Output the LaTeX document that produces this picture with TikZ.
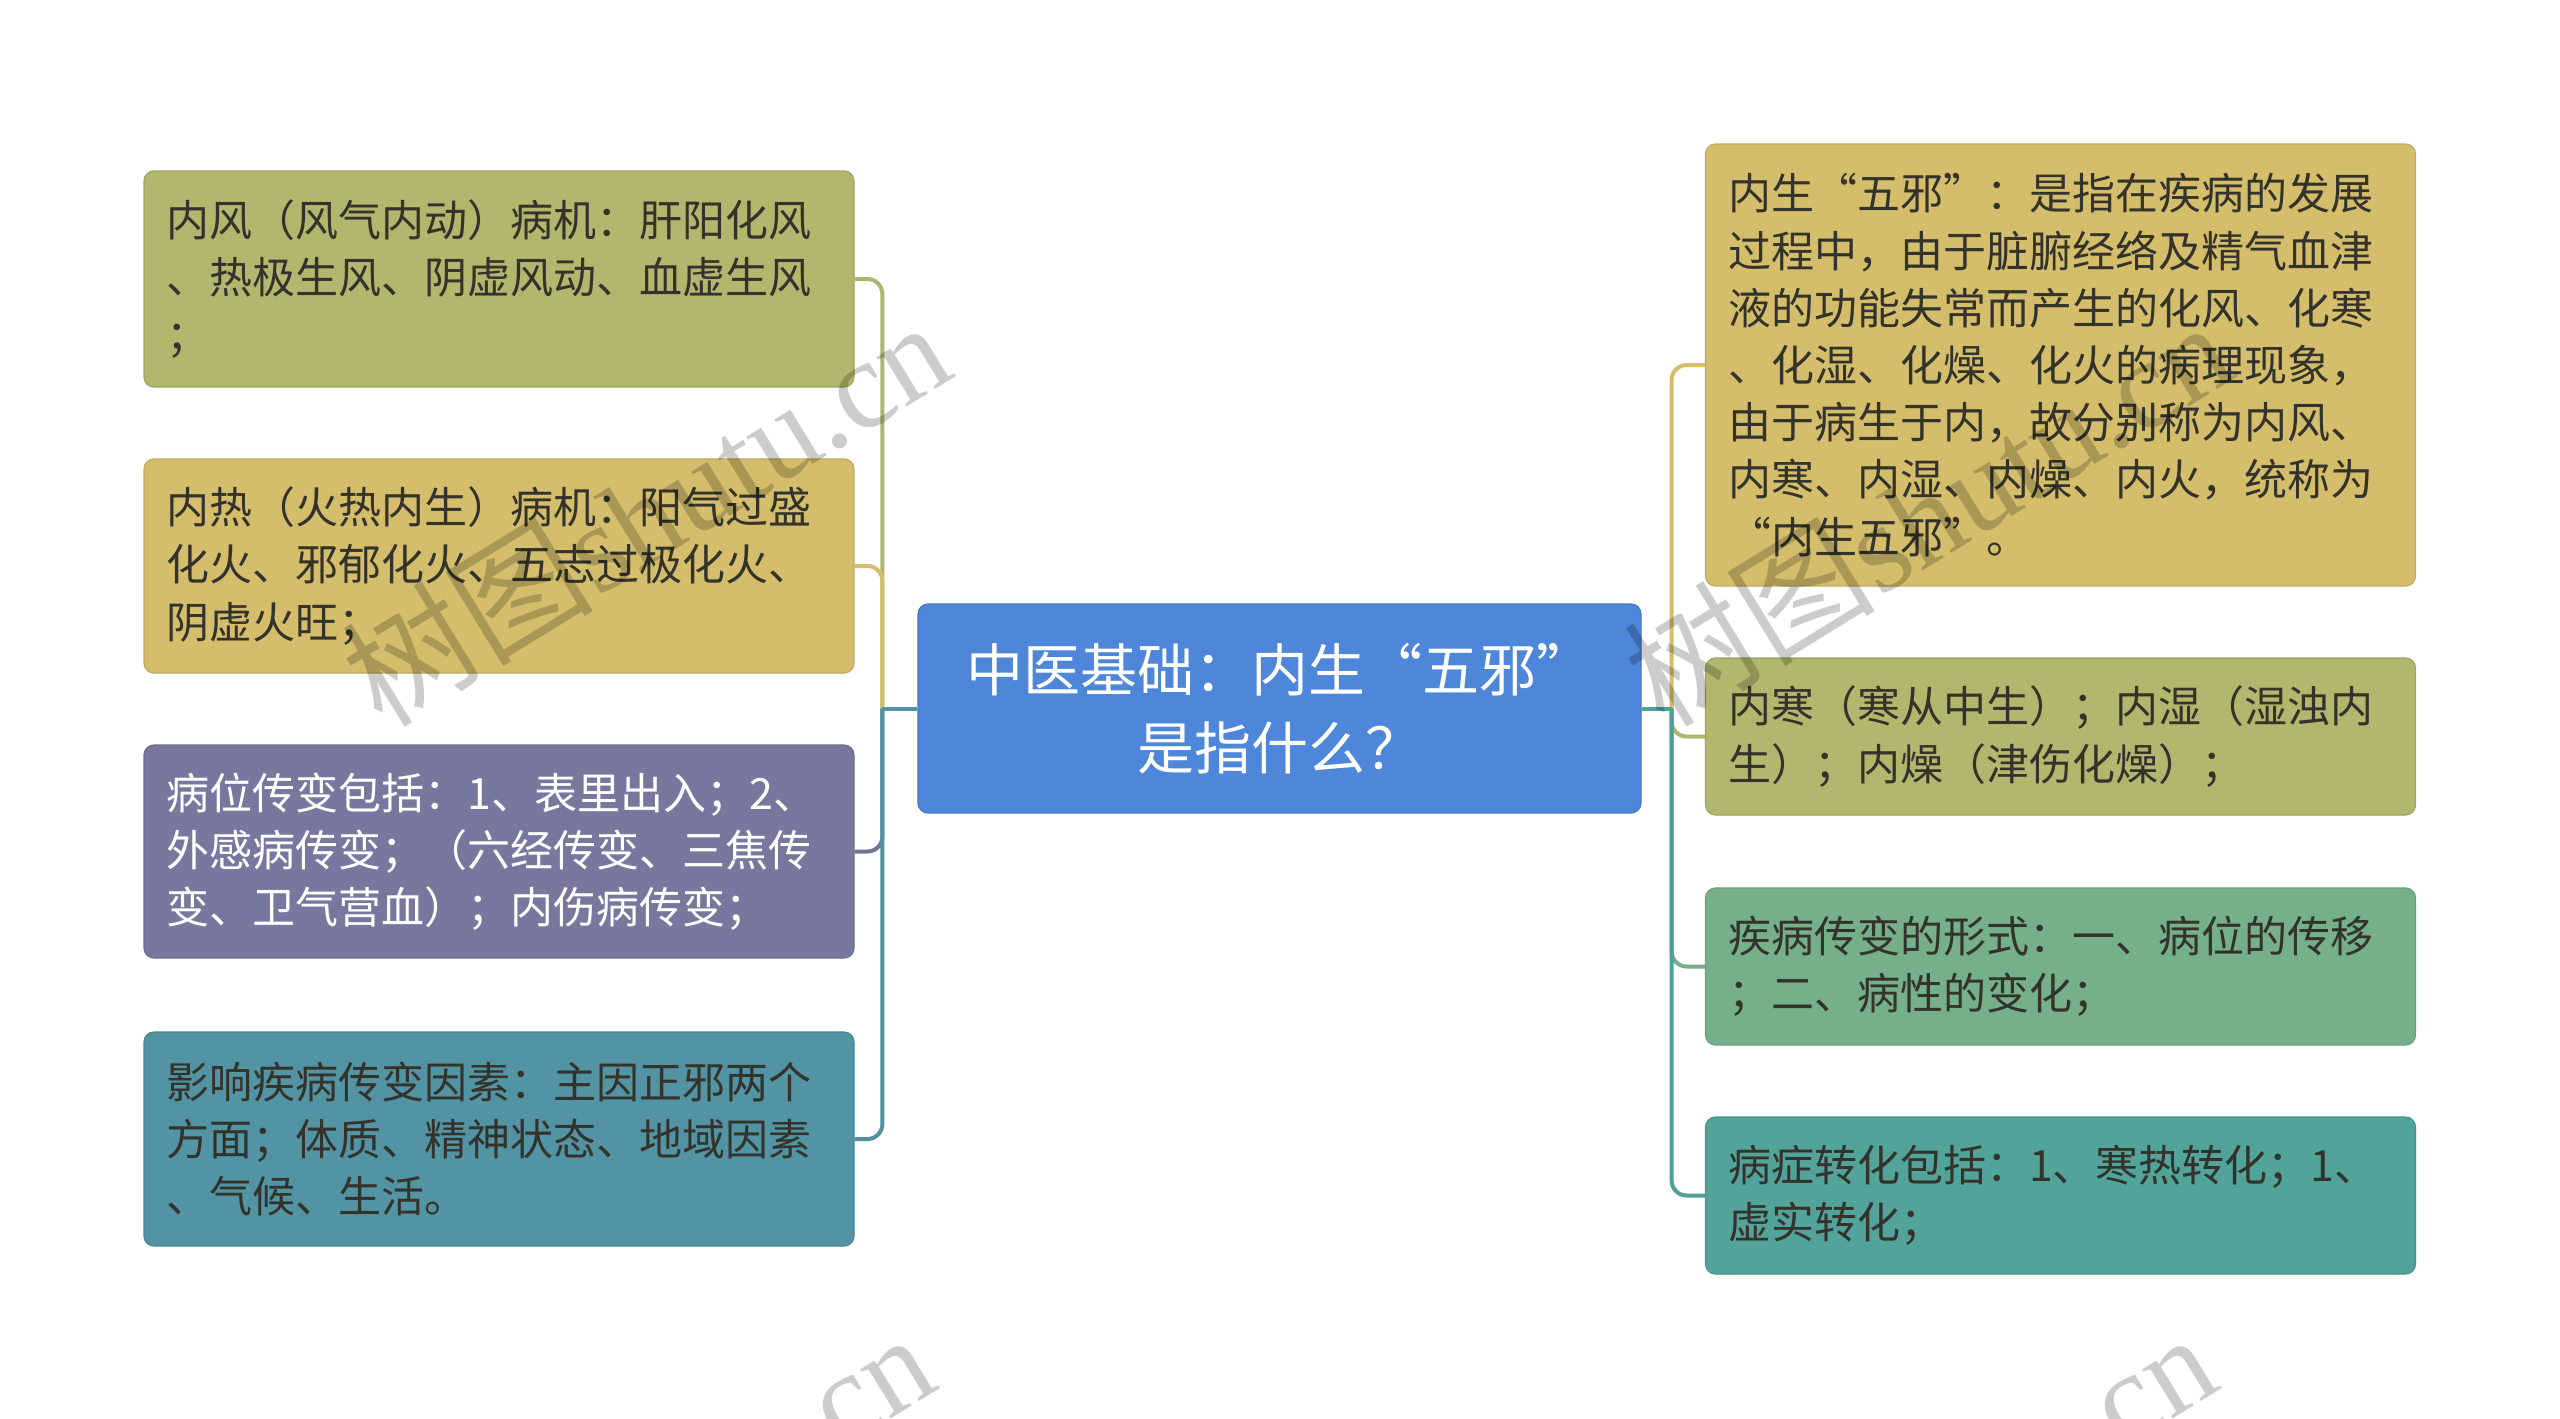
\documentclass[tikz,border=0pt]{standalone}
\usepackage{fontspec}
\setmainfont{Noto Sans CJK SC}
\newfontfamily\wmlatin{Liberation Serif}
\usetikzlibrary{positioning}
\definecolor{OliveFill}{HTML}{AFB86D}
\definecolor{TanFill}{HTML}{D4BD6B}
\definecolor{PurpleFill}{HTML}{78789E}
\definecolor{TealFill}{HTML}{5294A4}
\definecolor{GreenFill}{HTML}{76B08A}
\definecolor{SeaFill}{HTML}{52A39A}
\definecolor{HubBlue}{HTML}{4E86D9}
\definecolor{OliveLine}{HTML}{ADB76C}
\definecolor{TanLine}{HTML}{D4BE6E}
\definecolor{PurpleLine}{HTML}{74739C}
\definecolor{TealLine}{HTML}{4F92A2}
\definecolor{GreenLine}{HTML}{74AE88}
\definecolor{SeaLine}{HTML}{4E9F98}
\definecolor{InkDark}{HTML}{33332B}
\newcommand{\leaffont}{\fontsize{21.5pt}{28.6pt}\selectfont}
\newcommand{\hubfont}{\fontsize{28.5pt}{39pt}\selectfont}

\begin{document}
\begin{tikzpicture}[x=0.5pt, y=-0.5pt,
  leaf/.style={draw=#1!90!black, fill=#1, line width=0.6pt, rounded corners=5pt,
    text width=332.5pt, inner xsep=11.25pt, inner ysep=0pt, align=left,
    font=\leaffont, text=InkDark},
  branch/.style={line width=2pt, rounded corners=7.5pt},
  wmark/.style={rotate=31.6, text=black, text opacity=0.2, font=\fontsize{63pt}{70pt}\selectfont}]
\useasboundingbox (0,0) rectangle (2560,1419);
\fill[white] (0,0) rectangle (2560,1419);

% centre topic
\node[draw=HubBlue!90!black, fill=HubBlue, line width=0.6pt, rounded corners=5pt,
  minimum width=361.5pt, minimum height=104.5pt, align=center, font=\hubfont, text=white]
  (hub) at (1279.5,708.5) {中医基础：内生“五邪”\\是指什么？};

% left side
\node[leaf=OliveFill, minimum height=108pt] (wind) at (499,279) {内风（风气内动）病机：肝阳化风\\、热极生风、阴虚风动、血虚生风\\；};
\node[leaf=TanFill, minimum height=107pt] (heat) at (499,566) {内热（火热内生）病机：阳气过盛\\化火、邪郁化火、五志过极化火、\\阴虚火旺；};
\node[leaf=PurpleFill, minimum height=106.5pt, text=white] (site) at (499,851.5) {病位传变包括：1、表里出入；2、\\外感病传变；（六经传变、三焦传\\变、卫气营血）；内伤病传变；};
\node[leaf=TealFill, minimum height=107pt] (factor) at (499,1139) {影响疾病传变因素：主因正邪两个\\方面；体质、精神状态、地域因素\\、气候、生活。};

% right side
\node[leaf=TanFill, minimum height=221pt] (five) at (2060.5,365) {内生“五邪”：是指在疾病的发展\\过程中，由于脏腑经络及精气血津\\液的功能失常而产生的化风、化寒\\、化湿、化燥、化火的病理现象，\\由于病生于内，故分别称为内风、\\内寒、内湿、内燥、内火，统称为\\“内生五邪”。};
\node[leaf=OliveFill, minimum height=78.5pt] (cold) at (2060.5,736.5) {内寒（寒从中生）；内湿（湿浊内\\生）；内燥（津伤化燥）；};
\node[leaf=GreenFill, minimum height=78.5pt] (form) at (2060.5,966.5) {疾病传变的形式：一、病位的传移\\；二、病性的变化；};
\node[leaf=SeaFill, minimum height=78.5pt] (turn) at (2060.5,1195.5) {病症转化包括：1、寒热转化；1、\\虚实转化；};

% connectors
\coordinate (jl) at ([xshift=-17.5pt]hub.west);
\coordinate (jr) at ([xshift=15pt]hub.east);
\draw[branch, OliveLine] (jl) |- (wind.east);
\draw[branch, TanLine] (jl) |- (heat.east);
\draw[branch, PurpleLine] (jl) |- (site.east);
\draw[branch, TealLine] (jl) |- (factor.east);
\draw[line width=2pt, TealLine] (hub.west) -- (jl);
\draw[branch, TanLine] (jr) |- (five.west);
\draw[branch, OliveLine] (jr) |- (cold.west);
\draw[branch, GreenLine] (jr) |- (form.west);
\draw[branch, SeaLine] (jr) |- (turn.west);
\draw[line width=2pt, SeaLine] (hub.east) -- (jr);

% watermarks
\begin{scope}
\clip (0,0) rectangle (2560,1419);
\node[wmark] (wm1) at (645,512) {树图{\wmlatin shutu.cn}};
\node[wmark] (wm2) at (1927,512) {树图{\wmlatin shutu.cn}};
\node[wmark] (wm3) at (629,1524) {树图{\wmlatin shutu.cn}};
\node[wmark] (wm4) at (1911,1524) {树图{\wmlatin shutu.cn}};
\end{scope}
\end{tikzpicture}
\end{document}
